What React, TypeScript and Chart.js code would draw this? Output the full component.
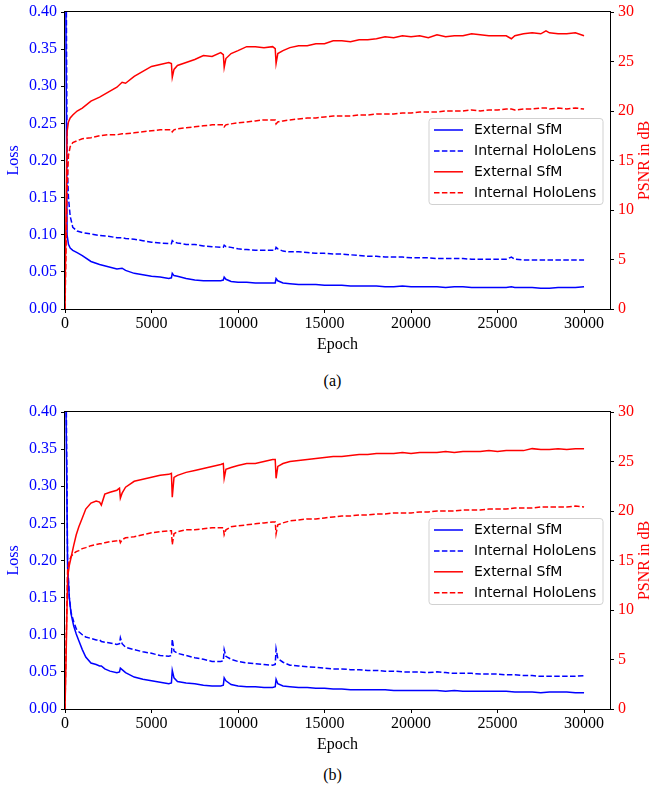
import React, { useEffect, useRef } from "react";
import { Chart, registerables } from "chart.js";
Chart.register(...registerables);

// ---------- data: panel (a) ----------
const epochsA = [
  0, 60, 120, 200, 300, 450, 700, 1000, 1500, 2000,
  2500, 3000, 3300, 3500, 4000, 4500, 5000, 5500, 6000, 6150,
  6200, 6300, 6500, 7000, 7500, 8000, 8500, 9000, 9150, 9200,
  9300, 9600, 10000, 10500, 11000, 11500, 12000, 12150, 12200, 12300,
  12600, 13000, 13500, 14000, 14500, 15000, 15500, 16000, 16500, 17000,
  17500, 18000, 18500, 19000, 19500, 20000, 20500, 21000, 21500, 22000,
  22500, 23000, 23500, 24000, 24500, 25000, 25500, 25800, 26000, 26500,
  27000, 27500, 27800, 28000, 28500, 29000, 29500, 30000,
];
const lossExternalA = [
  0.9, 0.35, 0.1, 0.087, 0.082, 0.079, 0.076, 0.072, 0.064, 0.06,
  0.057, 0.054, 0.055, 0.052, 0.048, 0.046, 0.044, 0.043, 0.041, 0.042,
  0.048, 0.045, 0.044, 0.041, 0.039, 0.038, 0.038, 0.038, 0.039, 0.043,
  0.04, 0.037, 0.036, 0.036, 0.035, 0.035, 0.035, 0.035, 0.041, 0.038,
  0.035, 0.034, 0.033, 0.033, 0.033, 0.032, 0.032, 0.032, 0.031, 0.031,
  0.031, 0.031, 0.03, 0.03, 0.031, 0.03, 0.03, 0.03, 0.03, 0.029,
  0.03, 0.03, 0.029, 0.029, 0.029, 0.029, 0.029, 0.03, 0.029, 0.029,
  0.029, 0.028, 0.028, 0.028, 0.029, 0.029, 0.029, 0.03,
];
const lossInternalA = [
  0.9, 0.5, 0.2, 0.15, 0.125, 0.11, 0.105, 0.103, 0.101, 0.099,
  0.098, 0.096, 0.096, 0.095, 0.094, 0.092, 0.09, 0.089, 0.088, 0.088,
  0.092, 0.09, 0.089, 0.087, 0.087, 0.085, 0.084, 0.083, 0.083, 0.086,
  0.084, 0.083, 0.081, 0.08, 0.079, 0.079, 0.079, 0.079, 0.083, 0.081,
  0.078, 0.077, 0.077, 0.076, 0.075, 0.075, 0.074, 0.074, 0.073, 0.072,
  0.071, 0.071, 0.07, 0.07, 0.07, 0.069, 0.069, 0.069, 0.068, 0.068,
  0.068, 0.068, 0.067, 0.067, 0.067, 0.067, 0.067, 0.07, 0.067, 0.066,
  0.066, 0.066, 0.066, 0.066, 0.066, 0.066, 0.066, 0.066,
];
const psnrExternalA = [
  0, 10, 17.9, 18.9, 19.3, 19.6, 20.0, 20.3, 21.0, 21.4,
  21.9, 22.4, 22.9, 22.8, 23.5, 24.0, 24.5, 24.7, 24.9, 24.8,
  23.4, 24.2, 24.6, 24.9, 25.2, 25.6, 25.5, 25.9, 25.7, 24.4,
  25.3, 25.8, 26.1, 26.5, 26.5, 26.4, 26.5, 26.3, 24.8, 25.8,
  26.1, 26.4, 26.6, 26.6, 26.8, 26.8, 27.1, 27.1, 27.0, 27.2,
  27.2, 27.3, 27.5, 27.4, 27.6, 27.5, 27.6, 27.4, 27.7, 27.5,
  27.6, 27.6, 27.8, 27.7, 27.6, 27.6, 27.6, 27.3, 27.6, 27.8,
  27.9, 27.8, 28.1, 27.9, 27.8, 27.8, 27.9, 27.6,
];
const psnrInternalA = [
  0, 6, 12, 15.5, 16.4, 16.8, 17.0, 17.2, 17.3, 17.5,
  17.6, 17.6, 17.7, 17.7, 17.8, 17.9, 18.0, 18.1, 18.1, 18.1,
  17.9, 18.1, 18.2, 18.3, 18.4, 18.5, 18.6, 18.6, 18.6, 18.4,
  18.6, 18.7, 18.8, 18.9, 19.0, 19.1, 19.1, 19.1, 18.7, 18.9,
  19.0, 19.1, 19.2, 19.3, 19.3, 19.4, 19.5, 19.5, 19.5, 19.6,
  19.6, 19.7, 19.7, 19.7, 19.8, 19.8, 19.9, 19.9, 19.9, 20.0,
  20.0, 20.0, 20.1, 20.0, 20.1, 20.1, 20.2, 20.2, 20.1, 20.2,
  20.2, 20.3, 20.3, 20.2, 20.3, 20.2, 20.3, 20.2,
];

// ---------- data: panel (b) ----------
const epochsB = [
  0, 60, 150, 250, 350, 500, 650, 800, 1000, 1200,
  1500, 1800, 2000, 2100, 2300, 2600, 3000, 3150, 3200, 3300,
  3500, 4000, 4500, 5000, 5500, 6000, 6150, 6200, 6300, 6500,
  7000, 7500, 8000, 8500, 9000, 9150, 9200, 9300, 9600, 10000,
  10500, 11000, 11500, 12000, 12150, 12200, 12300, 12600, 13000, 13500,
  14000, 14500, 15000, 15500, 16000, 16500, 17000, 17500, 18000, 18500,
  19000, 19500, 20000, 20500, 21000, 21500, 22000, 22500, 23000, 23500,
  24000, 24500, 25000, 25500, 26000, 26500, 27000, 27500, 28000, 28500,
  29000, 29500, 30000,
];
const lossExternalB = [
  0.9, 0.4, 0.19, 0.15, 0.128, 0.112, 0.101, 0.092, 0.08, 0.07,
  0.062, 0.06, 0.058, 0.058, 0.054, 0.051, 0.049, 0.05, 0.055, 0.053,
  0.049, 0.043, 0.04, 0.038, 0.036, 0.034, 0.035, 0.052, 0.042, 0.037,
  0.035, 0.034, 0.032, 0.031, 0.031, 0.032, 0.042, 0.038, 0.033, 0.031,
  0.03, 0.03, 0.029, 0.029, 0.03, 0.04, 0.034, 0.031, 0.03, 0.029,
  0.029, 0.028, 0.028, 0.027, 0.027, 0.026, 0.026, 0.026, 0.026, 0.026,
  0.025, 0.025, 0.025, 0.025, 0.025, 0.025, 0.024, 0.025, 0.024, 0.024,
  0.024, 0.024, 0.024, 0.024, 0.023, 0.023, 0.023, 0.022, 0.023, 0.023,
  0.023, 0.022, 0.022,
];
const lossInternalB = [
  0.9, 0.45, 0.2, 0.15, 0.13, 0.118, 0.108, 0.104, 0.1, 0.097,
  0.095, 0.093, 0.093, 0.091, 0.09, 0.089, 0.087, 0.088, 0.096, 0.088,
  0.083, 0.08, 0.077, 0.075, 0.072, 0.071, 0.072, 0.094, 0.078, 0.075,
  0.072, 0.069, 0.067, 0.064, 0.064, 0.065, 0.08, 0.071, 0.067, 0.064,
  0.062, 0.061, 0.06, 0.059, 0.06, 0.081, 0.068, 0.063, 0.059, 0.058,
  0.057, 0.056, 0.055, 0.054, 0.054, 0.053, 0.053, 0.052, 0.052, 0.051,
  0.051, 0.05, 0.05, 0.05, 0.049, 0.05, 0.049, 0.048, 0.048, 0.048,
  0.047, 0.047, 0.047, 0.046, 0.046, 0.045, 0.045, 0.044, 0.044, 0.044,
  0.044, 0.044, 0.045,
];
const psnrExternalB = [
  0, 5, 13.3, 14.5, 15.3, 16.5, 17.6, 18.4, 19.3, 20.2,
  20.8, 21.0, 20.9, 20.6, 21.7, 21.9, 22.1, 22.3, 21.3, 21.8,
  22.4, 23.0, 23.2, 23.4, 23.6, 23.7, 23.8, 21.4, 23.4, 23.6,
  23.9, 24.1, 24.3, 24.5, 24.7, 24.8, 23.3, 24.2, 24.4, 24.6,
  24.8, 24.8, 25.0, 25.2, 25.2, 23.3, 24.5, 24.8, 25.0, 25.1,
  25.2, 25.3, 25.4, 25.5, 25.5, 25.6, 25.7, 25.7, 25.8, 25.8,
  25.8, 25.9, 25.8, 25.9, 25.9, 25.9, 26.0, 25.9, 26.0, 26.0,
  26.0, 26.1, 26.0, 26.1, 26.1, 26.1, 26.3, 26.2, 26.2, 26.3,
  26.2, 26.3, 26.3,
];
const psnrInternalB = [
  0, 6, 14.0, 15.0, 15.4, 15.7, 15.9, 16.0, 16.2, 16.3,
  16.5, 16.6, 16.7, 16.7, 16.8, 16.9, 17.0, 17.1, 16.8, 17.1,
  17.3, 17.4, 17.6, 17.8, 17.9, 18.0, 18.0, 16.6, 17.7, 17.9,
  18.1, 18.1, 18.2, 18.3, 18.3, 18.3, 17.6, 18.1, 18.4, 18.5,
  18.6, 18.7, 18.8, 18.9, 18.9, 17.7, 18.6, 18.8, 19.0, 19.1,
  19.2, 19.2, 19.3, 19.4, 19.5, 19.5, 19.6, 19.6, 19.7, 19.7,
  19.8, 19.8, 19.8, 19.9, 19.9, 20.0, 20.0, 20.0, 20.1, 20.1,
  20.1, 20.2, 20.2, 20.2, 20.3, 20.3, 20.3, 20.4, 20.4, 20.4,
  20.4, 20.5, 20.4,
];

// ---------- axis ticks & labels ----------
const xTickValues = [0, 5000, 10000, 15000, 20000, 25000, 30000];
const lossTickValues = [0, 0.05, 0.1, 0.15, 0.2, 0.25, 0.3, 0.35, 0.4];
const psnrTickValues = [0, 5, 10, 15, 20, 25, 30];
const seriesLabels = ["External SfM", "Internal HoloLens", "External SfM", "Internal HoloLens"];
const xTitle = "Epoch";
const leftTitle = "Loss";
const rightTitle = "PSNR in dB";
const captions = ["(a)", "(b)"];

const BLUE = "#0000ff";
const RED = "#ff0000";
const SERIF = '"Liberation Serif", "Times New Roman", serif';
const SANS = '"DejaVu Sans", sans-serif';
const DASH = [5.5, 2.4];

const decorPlugin = {
  id: "decor",
  afterDatasetsDraw(chart: any, _args: any, opts: any) {
    const { ctx, chartArea } = chart;
    const { left, top, right, bottom } = chartArea;
    ctx.save();
    // frame (all four spines)
    ctx.strokeStyle = "#000";
    ctx.lineWidth = 1;
    ctx.setLineDash([]);
    ctx.strokeRect(left - 0.5, top - 0.5, right - left + 1, bottom - top + 1);
    // legend box
    const w = 174;
    const h = 86;
    const x0 = right - 7 - w;
    const y0 = top + 106.5;
    ctx.beginPath();
    if (ctx.roundRect) ctx.roundRect(x0, y0, w, h, 3);
    else ctx.rect(x0, y0, w, h);
    ctx.fillStyle = "rgba(255,255,255,0.8)";
    ctx.fill();
    ctx.strokeStyle = "rgba(204,204,204,0.9)";
    ctx.lineWidth = 1;
    ctx.stroke();
    ctx.font = "14px " + SANS;
    ctx.textBaseline = "middle";
    ctx.textAlign = "left";
    chart.data.datasets.forEach((ds: any, i: number) => {
      const y = y0 + 11.5 + i * 20.9;
      ctx.beginPath();
      ctx.setLineDash(ds.borderDash || []);
      ctx.strokeStyle = ds.borderColor;
      ctx.lineWidth = 1.5;
      ctx.moveTo(x0 + 5, y);
      ctx.lineTo(x0 + 34, y);
      ctx.stroke();
      ctx.setLineDash([]);
      ctx.fillStyle = "#000";
      ctx.fillText(ds.label, x0 + 45, y + 0.5);
    });
    // right axis title, rotated like matplotlib (bottom to top)
    ctx.translate(645, (top + bottom) / 2);
    ctx.rotate(-Math.PI / 2);
    ctx.font = "16px " + SERIF;
    ctx.fillStyle = RED;
    ctx.textAlign = "center";
    ctx.textBaseline = "middle";
    ctx.fillText(opts.rightTitle, 0, 0);
    ctx.restore();
  },
};

const fixedTicks = (values: number[]) => (axis: any) => {
  axis.ticks = values.map((v) => ({ value: v }));
};

function makeConfig(epochs: number[], lossExt: number[], lossInt: number[], psnrExt: number[], psnrInt: number[]) {
  const pts = (vals: number[]) => epochs.map((e, i) => ({ x: e, y: vals[i] }));
  const common = { pointRadius: 0, borderWidth: 1.5, tension: 0, fill: false };
  const tickGrid = { drawOnChartArea: false, drawTicks: true, tickLength: 4, color: "#000" };
  return {
    type: "line" as const,
    data: {
      datasets: [
        { ...common, label: seriesLabels[0], data: pts(lossExt), borderColor: BLUE, yAxisID: "yL", order: 1 },
        { ...common, label: seriesLabels[1], data: pts(lossInt), borderColor: BLUE, borderDash: DASH, yAxisID: "yL", order: 1 },
        { ...common, label: seriesLabels[2], data: pts(psnrExt), borderColor: RED, yAxisID: "yR", order: 0 },
        { ...common, label: seriesLabels[3], data: pts(psnrInt), borderColor: RED, borderDash: DASH, yAxisID: "yR", order: 0 },
      ],
    },
    options: {
      responsive: false,
      animation: false,
      events: [],
      layout: { padding: { top: 9, left: 0, right: 0, bottom: 0 } },
      plugins: {
        legend: { display: false },
        tooltip: { enabled: false },
        decor: { rightTitle },
      },
      scales: {
        x: {
          type: "linear",
          min: 0,
          max: 31500,
          border: { display: false },
          grid: tickGrid,
          afterBuildTicks: fixedTicks(xTickValues),
          ticks: {
            maxRotation: 0,
            autoSkip: false,
            padding: 3,
            color: "#000",
            font: { family: SERIF, size: 16, lineHeight: 1 },
            callback: (v: any) => String(v),
          },
          title: {
            display: true,
            text: xTitle,
            color: "#000",
            font: { family: SERIF, size: 16, lineHeight: 1.2 },
            padding: { top: 0, bottom: 6 },
          },
          afterFit: (axis: any) => {
            axis.height = 51;
          },
        },
        yL: {
          type: "linear",
          position: "left",
          min: 0,
          max: 0.4,
          border: { display: false },
          grid: tickGrid,
          afterBuildTicks: fixedTicks(lossTickValues),
          ticks: {
            autoSkip: false,
            padding: 4,
            color: BLUE,
            font: { family: SERIF, size: 16, lineHeight: 1 },
            callback: (v: any) => Number(v).toFixed(2),
          },
          title: {
            display: true,
            text: leftTitle,
            color: BLUE,
            font: { family: SERIF, size: 16, lineHeight: 1.2 },
            padding: { top: 4, bottom: 0 },
          },
          afterFit: (axis: any) => {
            axis.width = 65;
          },
        },
        yR: {
          type: "linear",
          position: "right",
          min: 0,
          max: 30,
          border: { display: false },
          grid: tickGrid,
          afterBuildTicks: fixedTicks(psnrTickValues),
          ticks: {
            autoSkip: false,
            padding: 4,
            color: RED,
            font: { family: SERIF, size: 16, lineHeight: 1 },
            callback: (v: any) => String(v),
          },
          afterFit: (axis: any) => {
            axis.width = 43;
          },
        },
      },
    },
    plugins: [decorPlugin],
  };
}

export default function App() {
  const refA = useRef<HTMLCanvasElement | null>(null);
  const refB = useRef<HTMLCanvasElement | null>(null);

  useEffect(() => {
    const charts: Chart[] = [];
    if (refA.current) {
      charts.push(new Chart(refA.current, makeConfig(epochsA, lossExternalA, lossInternalA, psnrExternalA, psnrInternalA) as any));
    }
    if (refB.current) {
      charts.push(new Chart(refB.current, makeConfig(epochsB, lossExternalB, lossInternalB, psnrExternalB, psnrInternalB) as any));
    }
    return () => charts.forEach((c) => c.destroy());
  }, []);

  const captionStyle = (top: number): React.CSSProperties => ({
    position: "absolute",
    top,
    left: 0,
    width: 653,
    textAlign: "center",
    fontFamily: SERIF,
    fontSize: 16,
    lineHeight: "16px",
    color: "#000",
    paddingLeft: 12,
    boxSizing: "border-box",
  });

  return (
    <div style={{ position: "absolute", top: 0, left: 0, width: 653, height: 794, background: "#fff", overflow: "hidden" }}>
      <canvas ref={refA} width={653} height={360} style={{ position: "absolute", top: 0, left: 0, width: 653, height: 360 }} />
      <div style={captionStyle(373)}>{captions[0]}</div>
      <canvas ref={refB} width={653} height={360} style={{ position: "absolute", top: 400, left: 0, width: 653, height: 360 }} />
      <div style={captionStyle(767)}>{captions[1]}</div>
    </div>
  );
}
